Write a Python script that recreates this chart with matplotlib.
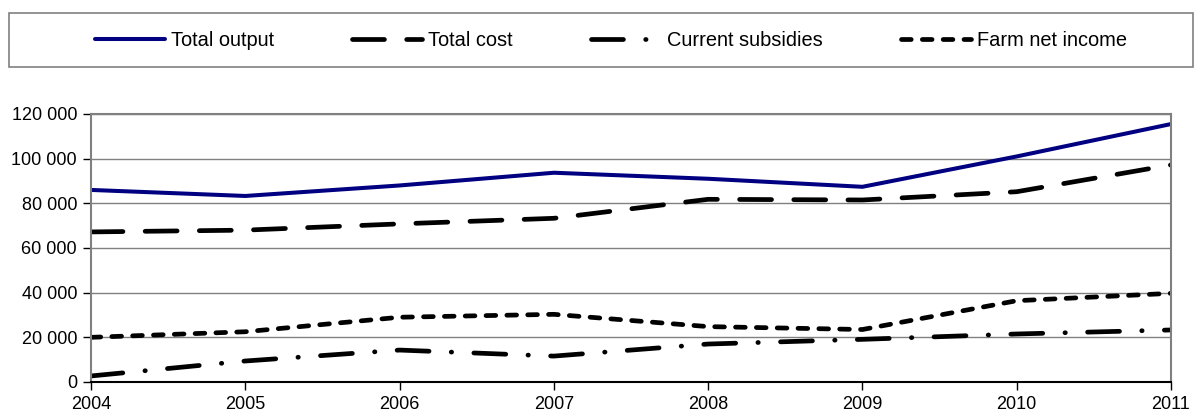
import matplotlib.pyplot as plt
import matplotlib.ticker as mticker
from matplotlib.patches import Rectangle

years = [2004, 2005, 2006, 2007, 2008, 2009, 2010, 2011]
total_output = [86000, 83300, 88000, 93700, 91000, 87400, 101000, 115500]
total_cost = [67200, 68000, 70800, 73300, 81800, 81500, 85200, 97200]
current_subsidies = [2700, 9400, 14300, 11600, 17000, 19100, 21500, 23300]
farm_net_income = [20000, 22500, 29000, 30300, 24800, 23500, 36400, 39700]

plt.rcParams['font.family'] = ['Liberation Sans', 'DejaVu Sans']
plt.rcParams['lines.scale_dashes'] = False

W, H = 1201, 417
fig = plt.figure(figsize=(W / 100, H / 100), dpi=100)
ax = fig.add_axes([91 / W, 1 - 382 / H, (1171 - 91) / W, (382 - 114) / H])

ax.plot(years, total_output, color='#000080', lw=2.9, solid_capstyle='round',
        label='Total output')
ax.plot(years, total_cost, color='black', lw=3.4, dash_capstyle='round',
        dashes=(23, 16), label='Total cost')
ax.plot(years, current_subsidies, color='black', lw=3.4, dash_capstyle='round',
        dashes=(23, 16, 0.3, 16), label='Current subsidies')
ax.plot(years, farm_net_income, color='black', lw=3.4, dash_capstyle='round',
        dashes=(7, 8), label='Farm net income')

ax.set_xlim(2004, 2011)
ax.set_ylim(0, 120000)
ax.set_xticks(years)
ax.set_yticks(range(0, 120001, 20000))
ax.yaxis.set_major_formatter(mticker.FuncFormatter(lambda v, p: f'{int(v):,}'.replace(',', ' ')))
ax.tick_params(labelsize=13, length=6, width=1, color='black', pad=4)
ax.grid(axis='y', color='#808080', lw=1)
ax.set_axisbelow(True)
for side in ['top', 'right', 'left']:
    ax.spines[side].set_color('#808080')
    ax.spines[side].set_linewidth(1.5)
ax.spines['bottom'].set_color('black')
ax.spines['bottom'].set_linewidth(1.5)

# legend box across the top
fig.patches.append(Rectangle((9 / W, 1 - 67 / H), (1193 - 9) / W, 54 / H,
                             transform=fig.transFigure, fill=False,
                             edgecolor='#808080', lw=1.2))
handles, labels = ax.get_legend_handles_labels()
fig.legend(handles, labels, loc='center', bbox_to_anchor=(611 / W, 1 - 40 / H),
           ncol=4, frameon=False, fontsize=14.4, handlelength=3.5,
           handletextpad=0.3, columnspacing=3.9)

fig.savefig('out.png', dpi=100)
